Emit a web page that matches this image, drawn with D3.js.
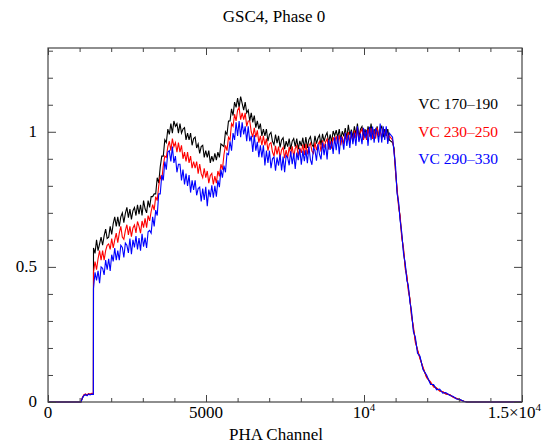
<!DOCTYPE html>
<html><head><meta charset="utf-8">
<script src="https://cdn.jsdelivr.net/npm/d3@7"></script>
<style>
body{margin:0;background:#fff}
svg{display:block}
</style>
</head><body><svg id="c" width="542" height="446"></svg>
<script>
const title = "GSC4, Phase 0";
const xLabel = "PHA Channel";
const seriesNames = ["VC 170–190", "VC 230–250", "VC 290–330"];
const seriesColors = ["#000000", "#ff0000", "#0000ff"];
const xTickValues = [0, 5000, 10000, 15000];
const xTickLabels = [["0", ""], ["5000", ""], ["10", "4"], ["1.5×10", "4"]];
const xMinorTicks = [1000,2000,3000,4000,6000,7000,8000,9000,11000,12000,13000,14000];
const yTickValues = [0, 0.5, 1];
const yTickLabels = ["0", "0.5", "1"];
const yMinorTicks = [0.1,0.2,0.3,0.4,0.6,0.7,0.8,0.9,1.1,1.2,1.3];

// rising edge (channels and values)
const headChannels = [0, 1043, 1091, 1139, 1188, 1236, 1284, 1332, 1380, 1436];
const headBlack = [0, 0, 0.015, 0.025, 0.027, 0.026, 0.030, 0.028, 0.030, 0.030];
const headRed   = [0, 0, 0.018, 0.027, 0.030, 0.025, 0.031, 0.029, 0.032, 0.031];
const headBlue  = [0, 0, 0.016, 0.024, 0.028, 0.023, 0.029, 0.026, 0.029, 0.028];

// main body, channels 1440 onward every 48
const mainStart = 1440, mainStep = 48;
const mainBlack = [
0.57,0.55,0.60,0.56,0.585,0.61,0.58,0.615,0.64,0.605,
0.61,0.65,0.62,0.66,0.685,0.65,0.685,0.65,0.685,0.70,
0.664,0.698,0.72,0.682,0.714,0.676,0.708,0.72,0.69,0.73,
0.695,0.73,0.69,0.745,0.715,0.70,0.745,0.72,0.76,0.76,
0.77,0.77,0.83,0.81,0.87,0.91,0.91,0.97,0.96,1.01,
0.99,1.03,0.995,1.04,1.02,1.03,0.995,1.03,0.995,1.01,
1.015,0.97,0.995,0.97,0.995,0.95,0.975,0.98,0.94,0.955,
0.92,0.945,0.95,0.905,0.93,0.905,0.93,0.885,0.91,0.89,
0.92,0.895,0.925,0.905,0.955,0.95,0.945,1.00,0.99,1.04,
1.04,1.085,1.06,1.11,1.09,1.125,1.09,1.13,1.105,1.08,
1.11,1.07,1.08,1.04,1.07,1.035,1.06,1.015,1.04,1.01,
1.03,0.985,1.01,0.985,1.01,0.965,0.99,0.998,0.965,0.952,
0.99,0.958,0.985,0.942,0.97,0.978,0.936,0.965,0.945,0.975,
0.935,0.965,0.975,0.945,0.975,0.935,0.966,0.947,0.978,0.939,
0.98,0.94,0.971,0.982,0.953,0.944,0.985,0.956,0.977,0.988,
0.95,0.992,0.964,0.985,0.997,0.958,0.99,0.962,1.003,0.985,
1.006,0.978,1.01,0.971,1.002,0.983,1.014,0.975,1.026,0.987,
1.008,0.979,1.02,0.99,1.03,0.98,1.01,1.02,0.98,1.01,
0.98,1.02,0.99,1.03,0.98,1.01,0.99,1.02,0.98,1.01,
1.02,0.98,1.01,0.985,1.01,0.97];
const mainRed = [
0.48,0.52,0.49,0.53,0.56,0.525,0.56,0.525,0.56,0.58,
0.585,0.565,0.605,0.57,0.60,0.625,0.59,0.625,0.65,0.61,
0.602,0.634,0.656,0.618,0.65,0.612,0.644,0.655,0.626,0.668,
0.65,0.625,0.67,0.645,0.68,0.645,0.69,0.67,0.705,0.73,
0.71,0.76,0.745,0.80,0.835,0.82,0.875,0.91,0.905,0.945,
0.965,0.93,0.975,0.945,0.96,0.925,0.96,0.925,0.95,0.90,
0.925,0.89,0.925,0.885,0.91,0.865,0.89,0.865,0.89,0.845,
0.88,0.845,0.83,0.865,0.83,0.855,0.81,0.838,0.846,0.805,
0.836,0.81,0.855,0.835,0.88,0.86,0.915,0.95,0.93,0.98,
0.97,1.03,1.02,1.065,1.04,1.08,1.09,1.045,1.07,1.045,
1.07,1.02,1.04,1.04,1.0,0.98,1.015,0.98,1.005,0.96,
0.985,0.95,0.985,0.95,0.975,0.93,0.955,0.96,0.925,0.91,
0.948,0.916,0.945,0.904,0.933,0.942,0.902,0.932,0.903,0.944,
0.915,0.946,0.907,0.938,0.949,0.91,0.941,0.922,0.953,0.914,
0.955,0.916,0.947,0.958,0.929,0.92,0.961,0.932,0.953,0.964,
0.926,0.968,0.94,0.962,0.974,0.935,0.967,0.938,0.98,0.962,
0.984,0.956,0.988,0.95,0.982,0.954,0.996,0.968,0.999,0.96,
0.992,0.964,1.005,0.976,1.017,0.968,0.999,1.01,0.97,1.0,
0.97,1.011,0.982,1.013,0.974,1.005,0.975,1.015,0.985,1.005,
0.975,1.015,0.985,1.01,0.965,0.985];
const mainBlue = [
0.42,0.48,0.45,0.485,0.44,0.50,0.495,0.47,0.525,0.49,
0.53,0.485,0.545,0.52,0.57,0.525,0.56,0.525,0.58,0.572,
0.535,0.588,0.58,0.552,0.605,0.547,0.60,0.572,0.614,0.565,
0.607,0.56,0.622,0.575,0.608,0.57,0.63,0.635,0.625,0.685,
0.65,0.71,0.69,0.77,0.77,0.84,0.82,0.89,0.86,0.925,
0.93,0.89,0.945,0.885,0.91,0.85,0.88,0.88,0.82,0.86,
0.805,0.845,0.80,0.84,0.775,0.82,0.785,0.82,0.765,0.79,
0.795,0.742,0.79,0.748,0.796,0.725,0.786,0.758,0.802,0.756,
0.80,0.76,0.82,0.795,0.86,0.83,0.875,0.85,0.92,0.915,
0.965,0.93,0.995,0.97,1.035,0.985,1.04,0.98,1.035,0.99,
1.02,0.965,1.02,0.965,0.985,0.925,0.988,0.93,0.963,0.906,
0.95,0.905,0.95,0.875,0.93,0.885,0.93,0.865,0.90,0.907,
0.856,0.905,0.875,0.916,0.857,0.908,0.85,0.912,0.904,0.876,
0.928,0.88,0.92,0.862,0.923,0.895,0.936,0.878,0.93,0.891,
0.932,0.884,0.945,0.897,0.878,0.94,0.931,0.893,0.954,0.916,
0.898,0.96,0.913,0.955,0.898,0.97,0.933,0.965,0.918,0.98,
0.932,0.985,0.917,0.98,0.972,0.934,0.996,0.948,0.989,0.94,
1.002,0.954,0.996,0.948,1.02,0.962,0.993,0.954,1.015,0.976,
1.007,0.948,1.018,0.969,1.019,0.96,1.01,1.0,0.96,1.03,
0.96,1.02,0.97,1.02,0.955,0.995];

// falling edge
const tailChannels = [10904,10952,11000,11048,11096,11144,11192,11250,11308,11356,11404,11452,11500,11563,11625,11693,11770,11866,11981,12106,12203,12299,12395,12491,12587,12722,12828,12924,13039,13164,13260,15000];
const tailBlack = [0.96,0.94,0.85,0.78,0.73,0.68,0.62,0.56,0.50,0.46,0.42,0.38,0.33,0.27,0.23,0.19,0.165,0.125,0.093,0.07,0.06,0.05,0.043,0.037,0.031,0.026,0.018,0.013,0.008,0.003,0,0];
const tailRed   = [0.97,0.93,0.85,0.79,0.72,0.69,0.61,0.57,0.49,0.47,0.41,0.385,0.32,0.28,0.22,0.195,0.16,0.13,0.09,0.075,0.055,0.052,0.04,0.039,0.03,0.027,0.017,0.014,0.007,0.003,0,0];
const tailBlue  = [0.98,0.92,0.87,0.77,0.74,0.67,0.63,0.55,0.51,0.45,0.43,0.37,0.34,0.26,0.24,0.18,0.17,0.12,0.10,0.065,0.065,0.045,0.048,0.033,0.035,0.024,0.02,0.011,0.009,0.002,0,0];

const FONT = "'Liberation Serif', 'Times New Roman', Times, 'DejaVu Serif', serif";
const svg = d3.select("#c");
const M = {left: 48, right: 522, top: 48, bottom: 402};
const x = d3.scaleLinear().domain([0, 15000]).range([M.left, M.right]);
const y = d3.scaleLinear().domain([0, 1.31]).range([M.bottom, M.top]);

function build(head, main, tail) {
  const pts = [];
  headChannels.forEach((c, i) => pts.push([c, head[i]]));
  main.forEach((v, i) => pts.push([mainStart + i * mainStep, v]));
  tailChannels.forEach((c, i) => pts.push([c, tail[i]]));
  return pts;
}
const series = [
  build(headBlack, mainBlack, tailBlack),
  build(headRed, mainRed, tailRed),
  build(headBlue, mainBlue, tailBlue)
];

const line = d3.line().x(d => x(d[0])).y(d => y(d[1]));
const g = svg.append("g");
series.forEach((s, i) => {
  g.append("path").datum(s).attr("d", line)
    .attr("fill", "none").attr("stroke", seriesColors[i])
    .attr("stroke-width", 1.1).attr("stroke-linejoin", "miter");
});

// axes (ticks inside)
const axisColor = "#444";
function styleAxis(sel) {
  sel.select(".domain").remove();
  sel.selectAll("line").attr("stroke", axisColor);
}
svg.append("g").attr("transform", `translate(0,${M.bottom})`)
  .call(d3.axisBottom(x).tickValues(xTickValues).tickSize(-7).tickFormat("")).call(styleAxis);
svg.append("g").attr("transform", `translate(0,${M.bottom})`)
  .call(d3.axisBottom(x).tickValues(xMinorTicks).tickSize(-4).tickFormat("")).call(styleAxis);
svg.append("g").attr("transform", `translate(0,${M.top})`)
  .call(d3.axisTop(x).tickValues(xTickValues).tickSize(-7).tickFormat("")).call(styleAxis);
svg.append("g").attr("transform", `translate(0,${M.top})`)
  .call(d3.axisTop(x).tickValues(xMinorTicks).tickSize(-4).tickFormat("")).call(styleAxis);
svg.append("g").attr("transform", `translate(${M.left},0)`)
  .call(d3.axisLeft(y).tickValues(yTickValues).tickSize(-8).tickFormat("")).call(styleAxis);
svg.append("g").attr("transform", `translate(${M.left},0)`)
  .call(d3.axisLeft(y).tickValues(yMinorTicks).tickSize(-5).tickFormat("")).call(styleAxis);
svg.append("g").attr("transform", `translate(${M.right},0)`)
  .call(d3.axisRight(y).tickValues(yTickValues).tickSize(-8).tickFormat("")).call(styleAxis);
svg.append("g").attr("transform", `translate(${M.right},0)`)
  .call(d3.axisRight(y).tickValues(yMinorTicks).tickSize(-5).tickFormat("")).call(styleAxis);

// frame
svg.append("rect").attr("x", M.left).attr("y", M.top)
  .attr("width", M.right - M.left).attr("height", M.bottom - M.top)
  .attr("fill", "none").attr("stroke", axisColor).attr("stroke-width", 1.2);

// x tick labels (last one kept inside the page edge)
xTickValues.forEach((v, i) => {
  const last = i === xTickValues.length - 1;
  const t = svg.append("text").attr("x", last ? 541 : x(v)).attr("y", M.bottom + 16)
    .attr("text-anchor", last ? "end" : "middle").attr("font-size", 17)
    .attr("font-family", FONT).attr("fill", "#000");
  t.append("tspan").text(xTickLabels[i][0]);
  if (xTickLabels[i][1]) t.append("tspan").attr("dy", -7).attr("font-size", 11).text(xTickLabels[i][1]);
});
// y tick labels
yTickValues.forEach((v, i) => {
  svg.append("text").attr("x", M.left - 11).attr("y", y(v) + 5)
    .attr("text-anchor", "end").attr("font-size", 17).attr("font-family", FONT).attr("fill", "#000").text(yTickLabels[i]);
});

// title and axis label
svg.append("text").attr("x", 274).attr("y", 22).attr("text-anchor", "middle")
  .attr("font-size", 17).attr("font-family", FONT).attr("fill", "#000").text(title);
svg.append("text").attr("x", 276).attr("y", 440).attr("text-anchor", "middle")
  .attr("font-size", 17).attr("font-family", FONT).attr("fill", "#000").text(xLabel);

// legend
seriesNames.forEach((n, i) => {
  svg.append("text").attr("x", 498).attr("y", 109 + i * 27.5)
    .attr("text-anchor", "end").attr("font-size", 15.5).attr("font-family", FONT)
    .attr("fill", seriesColors[i]).text(n);
});
</script>
</body></html>
